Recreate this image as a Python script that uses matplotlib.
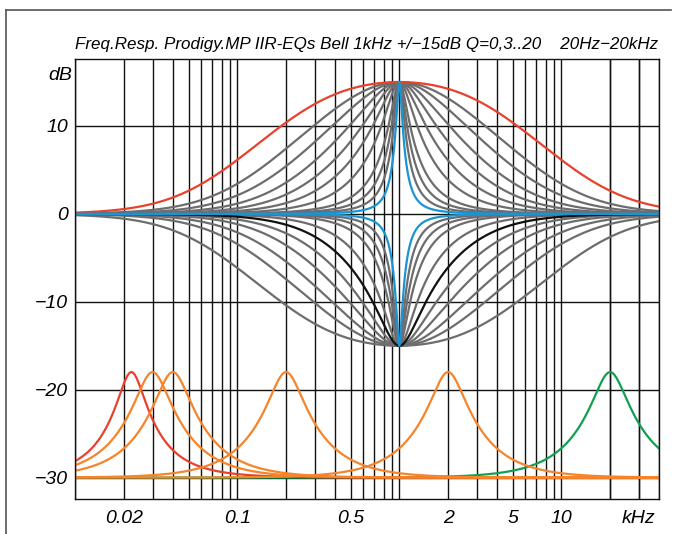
import numpy as np
import matplotlib.pyplot as plt
from matplotlib.lines import Line2D

# Bell-EQ parameters
main_f0 = 1.0            # kHz
main_gain = 15           # dB, boost and cut
q_values = [0.3, 0.5, 0.7, 1, 1.4, 2, 3, 5, 7, 10, 16]
q_red, q_black, q_blue = 0.3, 2, 16

low_base = -30           # dB
low_gain = 12            # dB
low_centers = [0.0222, 0.03, 0.04, 0.2, 2, 20]   # kHz
low_q = [2.9, 2.3, 2.3, 2.3, 2.3, 2.3]
low_colors = ['#e8412c', '#f5842a', '#f5842a', '#f5842a', '#f5842a', '#10a050']

x_ticks = [0.02, 0.1, 0.5, 2, 5, 10, 30]
x_labels = ['0.02', '0.1', '0.5', '2', '5', '10', 'kHz']
y_ticks = [10, 0, -10, -20, -30]
y_labels = ['10', '0', '\u221210', '\u221220', '\u221230']

title = 'Freq.Resp. Prodigy.MP IIR-EQs Bell 1kHz +/\u221215dB Q=0,3..20    20Hz\u221220kHz'

RED = '#e8412c'
GRAY = '#6d6d6f'
BLUE = '#1b95d2'
BLACK = '#111111'


def bell(f, f0, gain_db, q):
    w = f / f0
    g = 10 ** (abs(gain_db) / 20)
    num = (1 - w ** 2) ** 2 + (g * w / q) ** 2
    den = (1 - w ** 2) ** 2 + (w / q) ** 2
    return np.sign(gain_db) * 10 * np.log10(num / den)


f = np.logspace(-2, np.log10(40), 1200)

fig = plt.figure(figsize=(6.77, 5.34), dpi=100)
ax = fig.add_axes([0.1112, 0.065, 0.862, 0.824])

font = dict(family=['Liberation Sans', 'DejaVu Sans'], style='italic')

# grey curves first
for q in q_values:
    if q not in (q_red, q_blue):
        ax.plot(f, bell(f, main_f0, main_gain, q), color=GRAY, lw=1.6)
    if q not in (q_black, q_blue):
        ax.plot(f, bell(f, main_f0, -main_gain, q), color=GRAY, lw=1.6)

ax.plot(f, bell(f, main_f0, -main_gain, q_black), color=BLACK, lw=1.6)
ax.plot(f, bell(f, main_f0, main_gain, q_red), color=RED, lw=1.6)
ax.plot(f, bell(f, main_f0, main_gain, q_blue), color=BLUE, lw=1.6)
ax.plot(f, bell(f, main_f0, -main_gain, q_blue), color=BLUE, lw=1.6)

# low group
order = [5, 0, 1, 2, 3, 4]
for i in order:
    ax.plot(f, low_base + bell(f, low_centers[i], low_gain, low_q[i]),
            color=low_colors[i], lw=1.6)

ax.set_xscale('log')
ax.set_xlim(0.01, 40)
ax.set_ylim(-32.47, 17.59)

grid_x = [m * 10.0 ** e for e in range(-2, 2) for m in range(1, 10)] + [20, 30]
for gx in grid_x:
    ax.axvline(gx, color=BLACK, lw=1.0, zorder=0)
for gy in y_ticks:
    ax.axhline(gy, color=BLACK, lw=1.0, zorder=0)

ax.set_xticks(x_ticks)
ax.set_xticklabels(x_labels, fontsize=14, **font)
ax.xaxis.set_minor_locator(plt.NullLocator())
ax.set_yticks(y_ticks)
ax.set_yticklabels(y_labels, fontsize=14, **font)
ax.tick_params(length=0, pad=5)
ax.tick_params(axis='x', pad=8)

for s in ax.spines.values():
    s.set_color(BLACK)
    s.set_linewidth(1.0)

ax.text(-0.005, 15.8, 'dB', transform=ax.get_yaxis_transform(), ha='right',
        va='center', fontsize=14, **font)

# title, sized to span the plot width
t = fig.text(75 / 677, 1 - 45 / 534, title, ha='left', va='center', fontsize=12, **font)
r = fig.canvas.get_renderer()
w = t.get_window_extent(renderer=r).width
t.set_fontsize(12 * 580 / w)

# outer frame
fig.add_artist(Line2D([6 / 677, 6 / 677], [0, 1 - 10 / 534], color='#555555', lw=1.2))
fig.add_artist(Line2D([6 / 677, 671 / 677], [1 - 10 / 534, 1 - 10 / 534], color='#555555', lw=1.2))

fig.savefig('out.png', dpi=100)
